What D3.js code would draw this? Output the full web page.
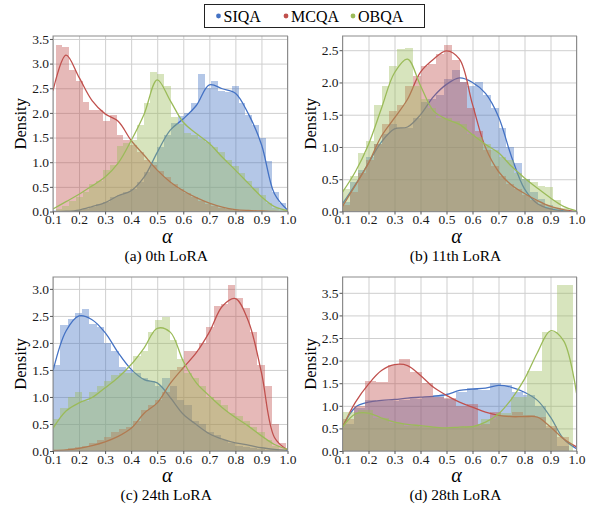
<!DOCTYPE html>
<html>
<head>
<meta charset="utf-8">
<script src="https://cdn.jsdelivr.net/npm/d3@7"></script>
<style>
  body { margin: 0; background: #fff; }
  text { font-family: "Liberation Serif", "Times New Roman", serif; }
</style>
</head>
<body>
<div id="canvas"></div>
<script>
// data

const seriesNames = ['SIQA', 'MCQA', 'OBQA'];
const titles = ['(a) 0th LoRA', '(b) 11th LoRA', '(c) 24th LoRA', '(d) 28th LoRA'];
const xTicks = [0.1, 0.2, 0.3, 0.4, 0.5, 0.6, 0.7, 0.8, 0.9, 1.0];
const yTicksA = [0, 0.5, 1.0, 1.5, 2.0, 2.5, 3.0, 3.5];
const yTicksB = [0, 0.5, 1.0, 1.5, 2.0, 2.5];
const yTicksC = [0, 0.5, 1.0, 1.5, 2.0, 2.5, 3.0];
const yTicksD = [0, 0.5, 1.0, 1.5, 2.0, 2.5, 3.0, 3.5];
const yMax = [3.56, 2.72, 3.22, 3.85];

// kde evaluated at these alpha values
const kdeX = [0.1, 0.15, 0.2, 0.25, 0.3, 0.35, 0.4, 0.45, 0.5, 0.55, 0.6, 0.65, 0.7, 0.75, 0.8, 0.85, 0.9, 0.95, 1.0];

// histogram bins: first edge and width per series (SIQA, MCQA, OBQA)
const binStartA = [0.11, 0.11, 0.11], binWidthA = [0.026, 0.026, 0.026];
const binStartB = [0.1, 0.1, 0.1], binWidthB = [0.03, 0.03, 0.03];
const binStartC = [0.1, 0.1, 0.1], binWidthC = [0.028, 0.028, 0.028];
const binStartD = [0.1, 0.1, 0.1], binWidthD = [0.0435, 0.0435, 0.059];

// (a) 0th LoRA
const siqaBarsA = [0, 0, 0.01, 0.03, 0.06, 0.1, 0.15, 0.2, 0.3, 0.33, 0.4, 0.45, 0.6, 0.8, 1.0, 1.3, 1.55, 1.8, 1.93, 2.0, 2.2, 2.78, 2.5, 2.65, 2.45, 2.42, 2.55, 2.2, 1.95, 1.76, 1.5, 1.02, 0.4, 0.18];
const mcqaBarsA = [3.38, 3.33, 2.87, 2.64, 2.22, 2.05, 2.05, 1.83, 1.96, 1.55, 1.45, 1.35, 1.2, 1.05, 0.95, 0.82, 0.7, 0.55, 0.45, 0.38, 0.3, 0.22, 0.15, 0.12, 0.08, 0.05, 0.03, 0.02, 0.01, 0, 0, 0, 0, 0];
const obqaBarsA = [0.06, 0.12, 0.22, 0.3, 0.4, 0.55, 0.62, 0.85, 0.95, 1.33, 1.38, 1.45, 1.75, 2.2, 2.83, 2.79, 2.55, 1.92, 1.78, 1.6, 1.55, 1.48, 1.4, 1.3, 1.2, 1.05, 0.92, 0.78, 0.62, 0.48, 0.33, 0.18, 0.08, 0.03];
const siqaKdeA = [0, 0.005, 0.03, 0.1, 0.18, 0.32, 0.42, 0.7, 1.2, 1.65, 1.88, 2.15, 2.57, 2.49, 2.4, 1.98, 1.36, 0.36, 0.03];
const mcqaKdeA = [2.45, 3.17, 2.72, 2.25, 1.98, 1.83, 1.44, 1.14, 0.84, 0.6, 0.42, 0.28, 0.17, 0.09, 0.04, 0.02, 0.01, 0, 0];
const obqaKdeA = [0.05, 0.2, 0.35, 0.52, 0.7, 0.98, 1.44, 1.98, 2.67, 2.25, 1.81, 1.58, 1.38, 1.1, 0.84, 0.57, 0.3, 0.1, 0.02];

// (b) 11th LoRA
const siqaBarsB = [0.15, 0.45, 0.65, 0.85, 1.05, 1.2, 1.35, 1.3, 1.3, 1.45, 1.7, 1.75, 1.8, 2.05, 2.2, 2.0, 1.95, 2.0, 1.8, 1.6, 1.3, 1.0, 0.75, 0.5, 0.3, 0.2, 0.1, 0.05, 0.02, 0];
const mcqaBarsB = [0.1, 0.3, 0.6, 0.8, 1.05, 1.35, 1.55, 1.65, 1.95, 2.1, 2.25, 2.28, 2.44, 2.58, 2.35, 2.0, 1.6, 1.25, 0.95, 0.7, 0.55, 0.42, 0.35, 0.25, 0.18, 0.12, 0.06, 0.03, 0.01, 0];
const obqaBarsB = [0.35, 0.55, 0.9, 1.1, 1.65, 1.95, 2.25, 2.52, 2.54, 1.95, 1.75, 1.6, 1.45, 1.45, 1.4, 1.35, 1.2, 1.15, 1.05, 0.95, 0.85, 0.8, 0.6, 0.5, 0.45, 0.4, 0.38, 0.18, 0.05, 0.01];
const siqaKdeB = [0.12, 0.42, 0.75, 1.08, 1.28, 1.31, 1.5, 1.78, 1.97, 2.07, 2.0, 1.83, 1.47, 0.85, 0.35, 0.12, 0.04, 0.01, 0];
const mcqaKdeB = [0.08, 0.41, 0.75, 1.17, 1.45, 1.74, 2.16, 2.36, 2.49, 2.36, 1.66, 0.99, 0.62, 0.41, 0.28, 0.17, 0.08, 0.03, 0];
const obqaKdeB = [0.3, 0.62, 1.04, 1.6, 2.15, 2.36, 1.95, 1.56, 1.43, 1.35, 1.19, 1.04, 0.91, 0.7, 0.52, 0.36, 0.21, 0.08, 0.01];

// (c) 24th LoRA
const siqaBarsC = [1.6, 2.33, 2.45, 2.55, 2.62, 2.35, 2.3, 2.0, 1.85, 1.55, 1.5, 1.45, 1.35, 1.3, 1.2, 1.35, 1.2, 0.95, 0.85, 0.55, 0.5, 0.35, 0.3, 0.2, 0.15, 0.1, 0.08, 0.05, 0.03, 0.02, 0.01, 0];
const mcqaBarsC = [0, 0.02, 0.05, 0.08, 0.1, 0.15, 0.2, 0.25, 0.35, 0.4, 0.45, 0.55, 0.75, 0.85, 0.95, 1.1, 1.5, 1.55, 1.85, 1.85, 2.0, 2.3, 2.68, 2.72, 3.07, 2.83, 2.65, 2.2, 1.6, 1.2, 0.5, 0.15];
const obqaBarsC = [0.6, 0.8, 1.0, 1.1, 0.92, 1.1, 1.2, 1.3, 1.4, 1.45, 1.45, 1.75, 1.85, 2.2, 2.43, 2.48, 2.05, 1.7, 1.45, 1.35, 1.2, 1.0, 0.95, 0.85, 0.7, 0.65, 0.55, 0.45, 0.35, 0.2, 0.1, 0.03];
const siqaKdeC = [1.48, 2.22, 2.5, 2.43, 2.19, 1.82, 1.51, 1.32, 1.26, 0.99, 0.68, 0.49, 0.32, 0.22, 0.15, 0.11, 0.06, 0.03, 0.01];
const mcqaKdeC = [0.01, 0.02, 0.05, 0.1, 0.17, 0.27, 0.42, 0.7, 0.89, 1.25, 1.54, 1.82, 2.2, 2.68, 2.82, 2.4, 1.45, 0.25, 0.02];
const obqaKdeC = [0.42, 0.74, 0.89, 0.99, 1.17, 1.36, 1.6, 1.91, 2.27, 2.2, 1.66, 1.26, 1.02, 0.8, 0.62, 0.46, 0.28, 0.12, 0.03];

// (d) 28th LoRA
const siqaBarsD = [0.6, 0.95, 1.12, 1.1, 1.1, 1.12, 1.15, 1.2, 1.25, 1.15, 1.3, 1.4, 1.35, 1.5, 1.45, 1.3, 1.25, 1.0, 0.5, 0.1];
const mcqaBarsD = [0.7, 1.0, 1.54, 1.52, 1.9, 2.03, 1.75, 1.5, 1.2, 1.17, 1.0, 1.05, 0.6, 0.87, 0.8, 0.87, 0.8, 0.75, 0.55, 0.32];
const obqaBarsD = [0.87, 0.9, 0.72, 0.62, 0.55, 0.52, 0.5, 0.5, 0.55, 0.7, 0.85, 1.2, 1.78, 2.64, 3.67];
const siqaKdeD = [0.53, 0.97, 1.08, 1.12, 1.14, 1.17, 1.19, 1.21, 1.25, 1.34, 1.37, 1.39, 1.45, 1.41, 1.3, 1.12, 0.75, 0.27, 0.05];
const mcqaKdeD = [0.53, 1.08, 1.48, 1.78, 1.91, 1.89, 1.67, 1.41, 1.23, 1.08, 0.97, 0.86, 0.79, 0.76, 0.76, 0.75, 0.53, 0.27, 0.09];
const obqaKdeD = [0.53, 0.82, 0.84, 0.73, 0.64, 0.59, 0.56, 0.53, 0.51, 0.53, 0.54, 0.64, 0.82, 1.15, 1.59, 2.18, 2.66, 2.44, 1.28];

// constants

const width = 591;
const height = 509;
const colors = ['#4472C4', '#C0504D', '#9BBB59'];
const cols = [[53, 287.5], [342.5, 576.5]];
const rows = [[36, 211.5], [277, 451]];

const panels = [
    { yTicks: yTicksA, bars: [siqaBarsA, mcqaBarsA, obqaBarsA], kde: [siqaKdeA, mcqaKdeA, obqaKdeA], b0: binStartA, bw: binWidthA },
    { yTicks: yTicksB, bars: [siqaBarsB, mcqaBarsB, obqaBarsB], kde: [siqaKdeB, mcqaKdeB, obqaKdeB], b0: binStartB, bw: binWidthB },
    { yTicks: yTicksC, bars: [siqaBarsC, mcqaBarsC, obqaBarsC], kde: [siqaKdeC, mcqaKdeC, obqaKdeC], b0: binStartC, bw: binWidthC },
    { yTicks: yTicksD, bars: [siqaBarsD, mcqaBarsD, obqaBarsD], kde: [siqaKdeD, mcqaKdeD, obqaKdeD], b0: binStartD, bw: binWidthD }
];

const svg = d3.select('#canvas')
    .append('svg').attr('width', width).attr('height', height);
const defs = svg.append('defs');

panels.forEach((p, i) => {
    const [x0, x1] = cols[i % 2];
    const [y0, y1] = rows[Math.floor(i / 2)];
    const x = d3.scaleLinear().domain([0.1, 1.0]).range([x0, x1]);
    const y = d3.scaleLinear().domain([0, yMax[i]]).range([y1, y0]);
    const g = svg.append('g');

    defs.append('clipPath').attr('id', `clip${i}`)
        .append('rect').attr('x', x0).attr('y', y0).attr('width', x1 - x0).attr('height', y1 - y0);

    // grid
    const gx = g.append('g')
        .attr('transform', `translate(0,${y1})`)
        .call(d3.axisBottom(x).tickValues(xTicks).tickSize(-(y1 - y0)).tickFormat(''));
    const gy = g.append('g')
        .attr('transform', `translate(${x0},0)`)
        .call(d3.axisLeft(y).tickValues(p.yTicks).tickSize(-(x1 - x0)).tickFormat(''));
    [gx, gy].forEach(a => {
        a.select('.domain').remove();
        a.selectAll('line').attr('stroke', '#cfcfcf').attr('stroke-width', 1);
    });

    const plot = g.append('g').attr('clip-path', `url(#clip${i})`);
    const line = d3.line()
        .x((d, k) => x(kdeX[k]))
        .y(d => y(d))
        .curve(d3.curveCatmullRom.alpha(0.5));

    // each series: histogram then kde, in seaborn's drawing order
    p.bars.forEach((vals, s) => {
        plot.append('g')
            .selectAll('rect')
            .data(vals)
            .join('rect')
            .attr('x', (d, k) => x(p.b0[s] + k * p.bw[s]))
            .attr('width', (d, k) => x(p.b0[s] + (k + 1) * p.bw[s]) - x(p.b0[s] + k * p.bw[s]))
            .attr('y', d => y(d))
            .attr('height', d => y1 - y(d))
            .attr('fill', colors[s])
            .attr('fill-opacity', 0.4)
            .attr('shape-rendering', 'crispEdges');
        plot.append('path')
            .datum(p.kde[s])
            .attr('d', line)
            .attr('fill', 'none')
            .attr('stroke', colors[s])
            .attr('stroke-width', 1.3);
    });

    // frame
    g.append('rect')
        .attr('x', x0).attr('y', y0).attr('width', x1 - x0).attr('height', y1 - y0)
        .attr('fill', 'none').attr('stroke', '#8c8c8c').attr('stroke-width', 1);

    // axes
    const xAxis = g.append('g')
        .attr('transform', `translate(0,${y1})`)
        .call(d3.axisBottom(x).tickValues(xTicks).tickFormat(d3.format('.1f')).tickSize(3).tickPadding(0));
    const yAxis = g.append('g')
        .attr('transform', `translate(${x0},0)`)
        .call(d3.axisLeft(y).tickValues(p.yTicks).tickFormat(d3.format('.1f')).tickSize(3).tickPadding(1));
    [xAxis, yAxis].forEach(a => {
        a.select('.domain').remove();
        a.selectAll('line').attr('stroke', '#555');
        a.selectAll('text').attr('fill', '#1a1a1a').style('font-size', '13.5px')
            .style('font-family', '"Liberation Serif", serif');
    });

    // labels
    g.append('text')
        .attr('transform', `translate(${x0 - 27},${(y0 + y1) / 2}) rotate(-90)`)
        .attr('text-anchor', 'middle')
        .style('font-size', '16.5px')
        .text('Density');
    g.append('text')
        .attr('x', (x0 + x1) / 2 - 3).attr('y', y1 + 31)
        .attr('text-anchor', 'middle')
        .style('font-size', '20px').style('font-style', 'italic')
        .text('α');
    g.append('text')
        .attr('x', (x0 + x1) / 2 - 4).attr('y', y1 + 49)
        .attr('text-anchor', 'middle')
        .style('font-size', '15.5px')
        .text(titles[i]);
});

// legend
const legend = svg.append('g');
legend.append('rect')
    .attr('x', 204.5).attr('y', 4.5).attr('width', 220).attr('height', 23)
    .attr('fill', '#fff').attr('stroke', '#222').attr('stroke-width', 1);
const legendX = [218.5, 286, 353];
seriesNames.forEach((name, s) => {
    legend.append('circle')
        .attr('cx', legendX[s]).attr('cy', 16).attr('r', 2.4).attr('fill', colors[s]);
    legend.append('text')
        .attr('x', legendX[s] + 5).attr('y', 21.5)
        .style('font-size', '16px')
        .text(name);
});
</script>
</body>
</html>
